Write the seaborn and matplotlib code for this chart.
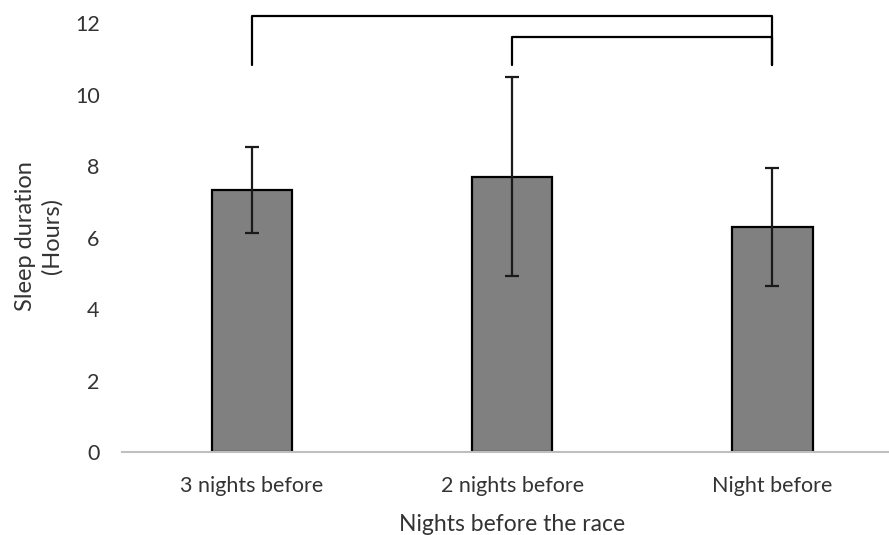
import matplotlib
matplotlib.use("Agg")
import matplotlib.pyplot as plt
import seaborn as sns
import pandas as pd

# data
nights = ["3 nights before", "2 nights before", "Night before"]
sleep_mean = [7.33, 7.70, 6.30]
sleep_sd = [1.20, 2.78, 1.65]
y_ticks = [0, 2, 4, 6, 8, 10, 12]

sns.set_theme(style="white")
plt.rcParams['font.family'] = ['Lato', 'DejaVu Sans']

df = pd.DataFrame({"night": nights, "hours": sleep_mean})

fig = plt.figure(figsize=(8.89, 5.35), dpi=100)
ax = fig.add_axes([0.137, 0.155, 0.878, 0.842])

sns.barplot(data=df, x="night", y="hours", color="#808080", width=0.31,
            edgecolor="black", linewidth=1.6, saturation=1, errorbar=None, ax=ax)
ax.errorbar(range(len(nights)), sleep_mean, yerr=sleep_sd, fmt="none",
            ecolor="#1a1a1a", elinewidth=1.6, capsize=5, capthick=1.6)

# significance brackets
def bracket(x1, x2, y, leg_y):
    ax.plot([x1, x1, x2, x2], [leg_y, y, y, leg_y], color="black", lw=1.6,
            clip_on=False, solid_joinstyle="round")

bracket(0, 2, 12.2, 10.83)
bracket(1, 2, 11.6, 10.83)

ax.set_xlim(-0.5, 2.5)
ax.set_ylim(0, 12.6)
ax.set_yticks(y_ticks)
ax.set_yticklabels([str(t) for t in y_ticks])
for s in ["top", "right", "left"]:
    ax.spines[s].set_visible(False)
ax.spines["bottom"].set_color("#bfbfbf")
ax.spines["bottom"].set_linewidth(1.5)
ax.tick_params(axis="both", length=0, labelsize=15.5, colors="#333333")
ax.tick_params(axis="y", pad=16)
ax.tick_params(axis="x", pad=17)

ax.set_xlabel("Nights before the race", fontsize=16.5, color="#333333", labelpad=13)
ax.set_ylabel("Sleep duration\n(Hours)", fontsize=17, color="#333333",
              linespacing=1.3)
ax.yaxis.set_label_coords(-0.076, 0.48)

fig.savefig("out.png", dpi=100)
